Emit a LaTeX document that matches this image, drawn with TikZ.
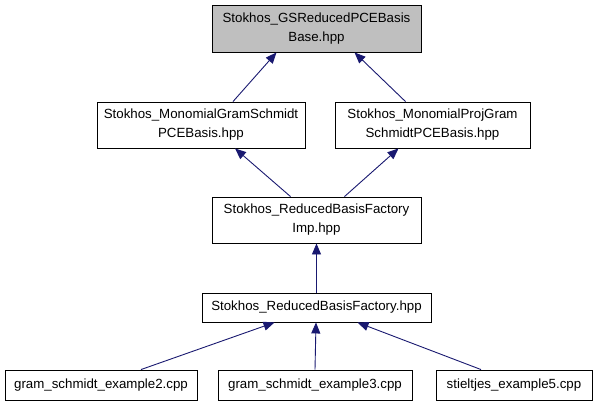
\documentclass[tikz,border=0pt]{standalone}
\usepackage{fontspec}
\setmainfont{Liberation Sans}
\usetikzlibrary{arrows.meta}
\definecolor{edgeblue}{HTML}{191970}
\definecolor{topgray}{HTML}{BFBFBF}
\begin{document}
\begin{tikzpicture}[x=1pt,y=-1pt,
  box/.style={draw=black,line width=0.9pt,fill=white,inner sep=0pt,align=center,
    font=\fontsize{13.3}{19}\selectfont},
  edge/.style={draw=edgeblue,line width=0.9pt,{Triangle[length=11pt,width=9pt]}-}]
\useasboundingbox (0,0) rectangle (597,405);
\node[box,fill=topgray,minimum width=209pt,minimum height=47pt] (base) at (316.5,28.5) {Stokhos\_GSReducedPCEBasis\\Base.hpp};
\node[box,minimum width=208pt,minimum height=46pt] (mgs) at (201,125) {Stokhos\_MonomialGramSchmidt\\PCEBasis.hpp};
\node[box,minimum width=195pt,minimum height=46pt] (mpgs) at (432.5,125) {Stokhos\_MonomialProjGram\\SchmidtPCEBasis.hpp};
\node[box,minimum width=209pt,minimum height=46pt] (imp) at (316.5,220) {Stokhos\_ReducedBasisFactory\\Imp.hpp};
\node[box,minimum width=229pt,minimum height=29pt] (fac) at (316.5,307.5) {Stokhos\_ReducedBasisFactory.hpp};
\node[box,minimum width=192pt,minimum height=30pt] (ex2) at (101,385) {gram\_schmidt\_example2.cpp};
\node[box,minimum width=194pt,minimum height=30pt] (ex3) at (315,385) {gram\_schmidt\_example3.cpp};
\node[box,minimum width=156pt,minimum height=30pt] (st5) at (514,385) {stieltjes\_example5.cpp};
\draw[edge] ([xshift=-40pt]base.south) -- ([xshift=32pt]mgs.north);
\draw[edge] ([xshift=38pt]base.south) -- ([xshift=-27pt]mpgs.north);
\draw[edge] ([xshift=34pt]mgs.south) -- ([xshift=-26pt]imp.north);
\draw[edge] ([xshift=-34pt]mpgs.south) -- ([xshift=28pt]imp.north);
\draw[edge] (imp.south) -- (fac.north);
\draw[edge] ([xshift=-42pt]fac.south) -- ([xshift=40pt]ex2.north);
\draw[edge] ([xshift=-0.5pt]fac.south) -- (ex3.north);
\draw[edge] ([xshift=41pt]fac.south) -- ([xshift=-33pt]st5.north);
\end{tikzpicture}
\end{document}
